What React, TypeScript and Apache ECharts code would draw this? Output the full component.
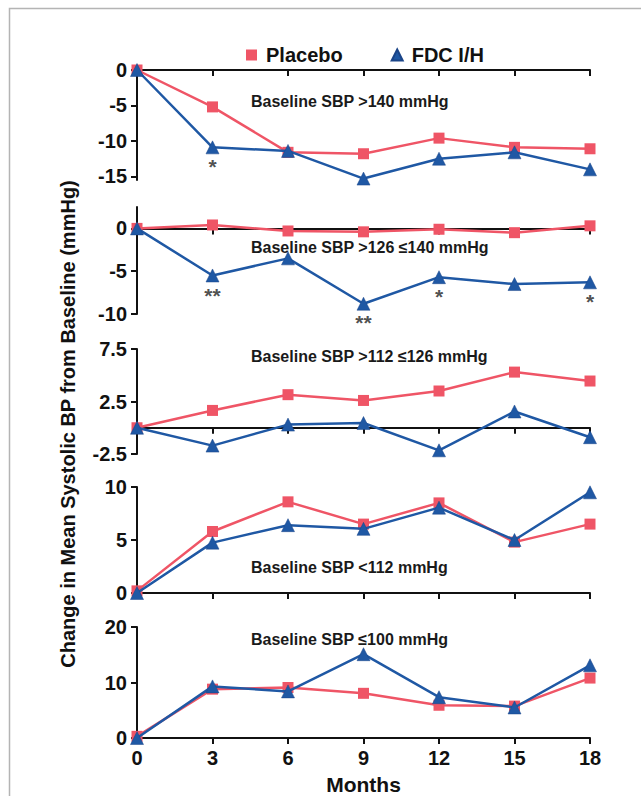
import React, { useEffect, useRef } from "react";
import * as echarts from "echarts";

// ---------- data ----------
const months = [0, 3, 6, 9, 12, 15, 18];
const monthTicks = ["0", "3", "6", "9", "12", "15", "18"];

const panelTitles = [
  "Baseline SBP >140 mmHg",
  "Baseline SBP >126 \u2264140 mmHg",
  "Baseline SBP >112 \u2264126 mmHg",
  "Baseline SBP <112 mmHg",
  "Baseline SBP \u2264100 mmHg",
];

const placebo140 = [0, -5.2, -11.6, -11.8, -9.6, -10.9, -11.1];
const fdc140 = [0, -10.9, -11.4, -15.3, -12.5, -11.6, -14.0];
const placebo126 = [0, 0.4, -0.3, -0.4, -0.1, -0.5, 0.3];
const fdc126 = [0, -5.5, -3.5, -8.8, -5.7, -6.5, -6.3];
const placebo112 = [0, 1.65, 3.15, 2.6, 3.5, 5.3, 4.45];
const fdc112 = [0, -1.7, 0.3, 0.45, -2.15, 1.55, -0.9];
const placeboLt112 = [0.2, 5.8, 8.6, 6.5, 8.5, 4.8, 6.5];
const fdcLt112 = [0, 4.75, 6.4, 6.05, 8.05, 5.0, 9.5];
const placebo100 = [0.3, 8.8, 9.1, 8.05, 5.9, 5.75, 10.8];
const fdc100 = [0, 9.3, 8.4, 15.1, 7.35, 5.5, 13.1];

const placeboSets = [placebo140, placebo126, placebo112, placeboLt112, placebo100];
const fdcSets = [fdc140, fdc126, fdc112, fdcLt112, fdc100];

const yMins = [-15.5, -10, -2.5, 0, 0];
const yMaxs = [0, 2.5, 7.5, 10, 20];
const yTickValues = [
  [0, -5, -10, -15],
  [0, -5, -10],
  [7.5, 2.5, -2.5],
  [10, 5, 0],
  [20, 10, 0],
];

// significance markers
const starPanels = [0, 1, 1, 1, 1];
const starMonths = [3, 3, 9, 12, 18];
const starValues = [-13.6, -7.8, -11.0, -7.9, -8.5];
const starTexts = ["*", "**", "**", "*", "*"];

// ---------- layout ----------
const gridTops = [70, 207, 349, 487, 627];
const gridHeights = [110, 107, 105, 106, 113];
const titleYs = [101, 247, 356, 567, 639];

const RED = "#ef5566";
const BLUE = "#1f58a4";
const FONT = "'Liberation Sans', Arial, Helvetica, sans-serif";

export default function App() {
  const ref = useRef<HTMLDivElement>(null);

  useEffect(() => {
    if (!ref.current) return;
    const chart = echarts.init(ref.current, null, { renderer: "svg" });

    const grids: any[] = [];
    const xAxes: any[] = [];
    const yAxes: any[] = [];
    const series: any[] = [];

    for (let p = 0; p < 5; p++) {
      const last = p === 4;
      grids.push({ left: 137, width: 453, top: gridTops[p], height: gridHeights[p] });
      xAxes.push({
        type: "value",
        gridIndex: p,
        min: 0,
        max: 18,
        interval: 3,
        axisLine: { onZero: true, lineStyle: { color: "#111", width: 2 } },
        axisTick: { show: true, length: 6, lineStyle: { color: "#111", width: 2 } },
        axisLabel: {
          show: last,
          margin: 10,
          fontSize: 20,
          fontWeight: "bold",
          color: "#111",
          fontFamily: FONT,
          formatter: (v: number) => monthTicks[months.indexOf(v)] ?? "",
        },
        splitLine: { show: false },
        name: last ? "Months" : "",
        nameLocation: "middle",
        nameGap: 36,
        nameTextStyle: { fontSize: 21, fontWeight: "bold", color: "#111", fontFamily: FONT },
      });
      yAxes.push({
        type: "value",
        gridIndex: p,
        min: yMins[p],
        max: yMaxs[p],
        axisLine: { show: true, onZero: false, lineStyle: { color: "#111", width: 2 } },
        axisTick: {
          show: true,
          length: 6,
          customValues: yTickValues[p],
          lineStyle: { color: "#111", width: 2 },
        },
        axisLabel: {
          margin: 10,
          fontSize: 20,
          fontWeight: "bold",
          color: "#111",
          fontFamily: FONT,
          customValues: yTickValues[p],
        },
        splitLine: { show: false },
      });
      series.push({
        name: "Placebo",
        type: "line",
        xAxisIndex: p,
        yAxisIndex: p,
        data: months.map((m, i) => [m, placeboSets[p][i]]),
        symbol: "rect",
        symbolSize: 11,
        itemStyle: { color: RED },
        lineStyle: { color: RED, width: 2.5 },
        z: 3,
      });
      series.push({
        name: "FDC I/H",
        type: "line",
        xAxisIndex: p,
        yAxisIndex: p,
        data: months.map((m, i) => [m, fdcSets[p][i]]),
        symbol: "triangle",
        symbolSize: 13,
        itemStyle: { color: BLUE, borderColor: "#1a4488", borderWidth: 0.5 },
        lineStyle: { color: BLUE, width: 2.5 },
        z: 4,
      });
    }

    for (let p = 0; p < 5; p++) {
      const pts: any[] = [];
      starPanels.forEach((sp, i) => {
        if (sp === p) pts.push({ value: [starMonths[i], starValues[i]], name: starTexts[i] });
      });
      if (pts.length) {
        series.push({
          type: "scatter",
          xAxisIndex: p,
          yAxisIndex: p,
          data: pts,
          symbolSize: 1,
          clip: false,
          silent: true,
          itemStyle: { color: "rgba(0,0,0,0)" },
          label: {
            show: true,
            position: "inside",
            formatter: (d: any) => d.name,
            fontSize: 21,
            fontWeight: "bold",
            color: "#222",
            fontFamily: FONT,
          },
          z: 5,
        });
      }
    }

    const graphics: any[] = [
      {
        type: "polyline",
        shape: { points: [[9.5, 796], [9.5, 8.5], [641, 8.5]] },
        style: { stroke: "#b4b4b4", lineWidth: 1.5, fill: null },
        silent: true,
      },
      {
        type: "text",
        x: 68,
        y: 424,
        rotation: Math.PI / 2,
        style: {
          text: "Change in Mean Systolic BP from Baseline (mmHg)",
          fontSize: 20,
          fontWeight: "bold",
          fill: "#111",
          fontFamily: FONT,
          textAlign: "center",
          textVerticalAlign: "middle",
        },
      },
    ];
    panelTitles.forEach((t, i) => {
      graphics.push({
        type: "text",
        x: 251,
        y: titleYs[i],
        style: {
          text: t,
          fontSize: 16,
          fontWeight: "bold",
          fill: "#1a1a1a",
          fontFamily: FONT,
          textAlign: "left",
          textVerticalAlign: "middle",
        },
      });
    });

    chart.setOption({
      animation: false,
      backgroundColor: "#ffffff",
      legend: {
        left: 241,
        top: 40,
        itemWidth: 11,
        itemHeight: 11,
        itemGap: 48,
        textStyle: {
          fontSize: 20,
          fontWeight: "bold",
          color: "#111",
          fontFamily: FONT,
          padding: [0, 0, 0, 4],
        },
        data: [
          { name: "Placebo", icon: "rect" },
          { name: "FDC I/H", icon: "triangle" },
        ],
        selectedMode: false,
      },
      grid: grids,
      xAxis: xAxes,
      yAxis: yAxes,
      series,
      graphic: graphics,
    });

    return () => chart.dispose();
  }, []);

  return (
    <div
      ref={ref}
      style={{ position: "fixed", left: 0, top: 0, width: 641, height: 796, background: "#fff" }}
    />
  );
}
